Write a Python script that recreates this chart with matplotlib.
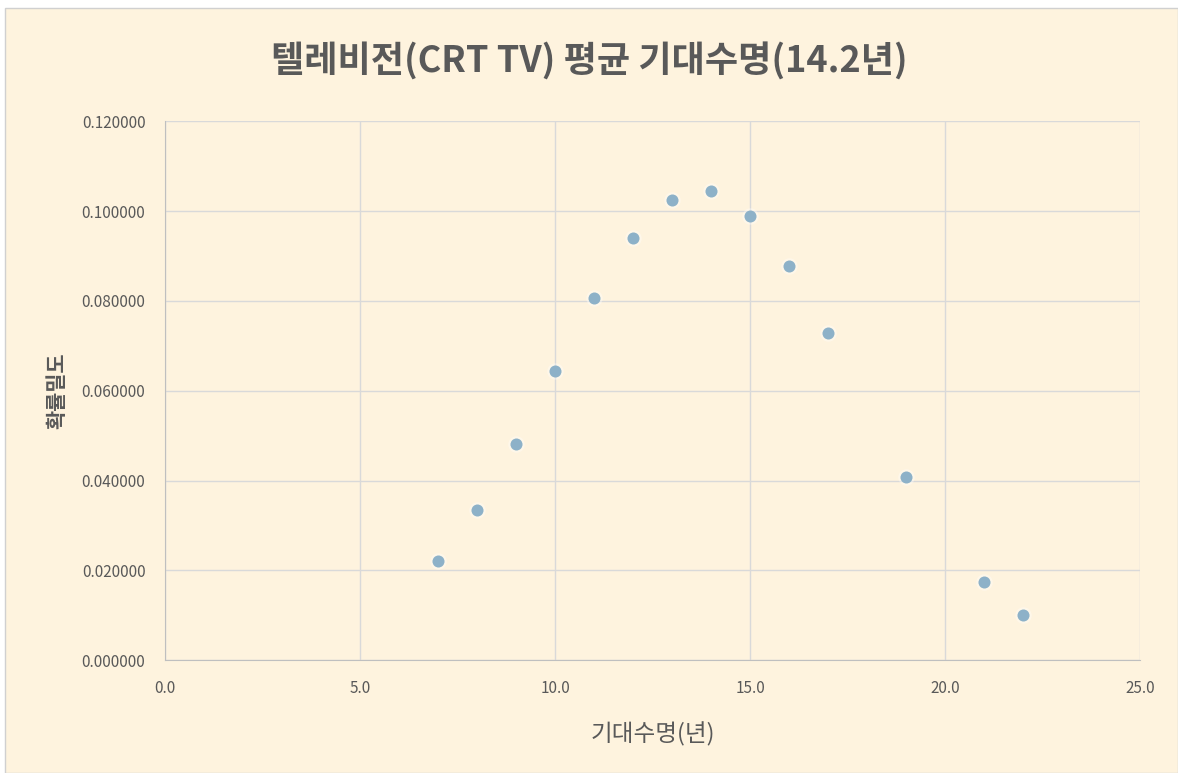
import matplotlib
matplotlib.use("Agg")
import matplotlib.pyplot as plt
from matplotlib.patches import Rectangle

plt.rcParams["font.family"] = ["Noto Sans CJK KR", "DejaVu Sans"]

# 데이터
years = [7, 8, 9, 10, 11, 12, 13, 14, 15, 16, 17, 19, 21, 22]
density = [0.0220, 0.0334, 0.0481, 0.0644, 0.0806, 0.0940, 0.1024, 0.1045,
           0.0989, 0.0877, 0.0728, 0.0408, 0.0174, 0.0100]

x_ticks = [0, 5, 10, 15, 20, 25]
y_ticks = [0, 0.02, 0.04, 0.06, 0.08, 0.10, 0.12]

bg = "#FEF3DE"
text_col = "#595959"

fig = plt.figure(figsize=(11.78, 7.73), dpi=100)
fig.patch.set_facecolor("white")
fig.patches.append(Rectangle((5 / 1178, 0), 1 - 5 / 1178, 1 - 8 / 773,
                             transform=fig.transFigure, facecolor=bg,
                             edgecolor="#D0D0D0", linewidth=1, zorder=-10))

ax = fig.add_axes([0.140, 0.146, 0.828, 0.697])
ax.set_facecolor(bg)

# 흰 테두리 느낌
ax.scatter(years, density, s=140, color="white", alpha=0.35, linewidths=0, zorder=3)
ax.scatter(years, density, s=75, color="#8DB1C8", linewidths=0, zorder=4)

ax.set_xlim(0, 25)
ax.set_ylim(0, 0.12)
ax.set_xticks(x_ticks)
ax.set_xticklabels([f"{v:.1f}" for v in x_ticks])
ax.set_yticks(y_ticks)
ax.set_yticklabels([f"{v:.6f}" for v in y_ticks])

ax.grid(True, color="#D9D9D9", linewidth=1)
ax.set_axisbelow(True)
for side in ["top", "right"]:
    ax.spines[side].set_visible(False)
for side in ["left", "bottom"]:
    ax.spines[side].set_color("#BFBFBF")
ax.tick_params(length=0, colors=text_col, labelsize=11, pad=14)

ax.set_xlabel("기대수명(년)", fontsize=17, color=text_col, labelpad=18)
ax.set_ylabel("확률밀도", fontsize=15, color=text_col, fontweight="bold", labelpad=10)

fig.suptitle("텔레비전(CRT TV) 평균 기대수명(14.2년)", fontsize=26,
             color=text_col, fontweight="bold", y=0.945)

fig.savefig("out.png", dpi=100, facecolor=fig.get_facecolor())
